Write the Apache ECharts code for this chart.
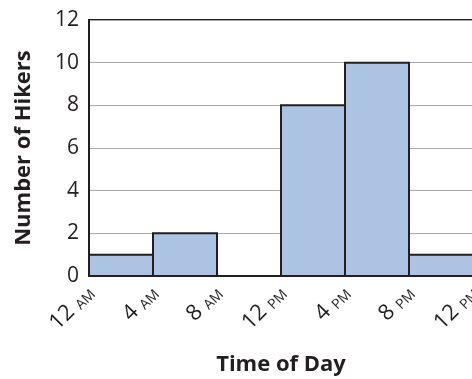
<!DOCTYPE html>
<html>
<head>
<meta charset="utf-8">
<script src="https://cdn.jsdelivr.net/npm/echarts@6/dist/echarts.min.js"></script>
<style>html,body{margin:0;padding:0;background:#fff;}#c{width:472px;height:379px;}</style>
</head>
<body>
<div id="c"></div>
<script>
var binStarts = [0, 4, 8, 12, 16, 20];
var binWidth = 4;
var hikers = [1, 2, 0, 8, 10, 1];
var tickNums = ['12', '4', '8', '12', '4', '8', '12'];
var tickSuffix = ['AM', 'AM', 'AM', 'PM', 'PM', 'PM', 'PM'];
var yTicks = [0, 2, 4, 6, 8, 10, 12];

var FONT = '"Open Sans", "Noto Sans", sans-serif';
var dark = '#231f20';
var data = binStarts.map(function (s, i) { return [s, s + binWidth, hikers[i]]; });

var chart = echarts.init(document.getElementById('c'), null, {renderer: 'canvas'});
chart.setOption({
  animation: false,
  grid: {left: 89, top: 20, width: 384, height: 256, show: true, borderColor: dark, borderWidth: 2,
         backgroundColor: 'transparent', containLabel: false, outerBoundsMode: 'none'},
  xAxis: {
    type: 'value', min: 0, max: 24, interval: 4,
    name: 'Time of Day', nameLocation: 'middle', nameGap: 78,
    nameTextStyle: {fontFamily: FONT, fontWeight: 'bold', fontSize: 22, color: dark},
    axisLine: {show: true, lineStyle: {color: dark, width: 2}},
    axisTick: {show: false},
    splitLine: {show: false},
    axisLabel: {
      rotate: 45, margin: 12, hideOverlap: false, showMaxLabel: true, showMinLabel: true,
      formatter: function (v) { var i = Math.round(v / 4); return '{n|' + tickNums[i] + ' }{s|' + tickSuffix[i] + '}'; },
      rich: {
        n: {fontFamily: FONT, fontSize: 22, color: dark, verticalAlign: 'bottom', lineHeight: 26},
        s: {fontFamily: FONT, fontSize: 14, color: dark, verticalAlign: 'bottom', lineHeight: 22}
      }
    }
  },
  yAxis: {
    type: 'value', min: yTicks[0], max: yTicks[yTicks.length - 1], interval: 2,
    name: 'Number of Hikers', nameLocation: 'middle', nameGap: 54,
    nameTextStyle: {fontFamily: FONT, fontWeight: 'bold', fontSize: 22, color: dark},
    axisLine: {show: true, lineStyle: {color: dark, width: 2}},
    axisTick: {show: false},
    axisLabel: {fontFamily: FONT, fontSize: 21, color: dark, margin: 10},
    splitLine: {show: true, lineStyle: {color: '#a7a9ac', width: 1}}
  },
  series: [{
    type: 'custom',
    data: data,
    encode: {x: [0, 1], y: 2},
    renderItem: function (params, api) {
      var h = api.value(2);
      if (!h) return null;
      var p0 = api.coord([api.value(0), h]);
      var p1 = api.coord([api.value(1), 0]);
      return {
        type: 'rect',
        shape: {x: p0[0], y: p0[1], width: p1[0] - p0[0], height: p1[1] - p0[1]},
        style: {fill: '#adc3e4', stroke: dark, lineWidth: 2}
      };
    }
  }]
});
</script>
</body>
</html>
